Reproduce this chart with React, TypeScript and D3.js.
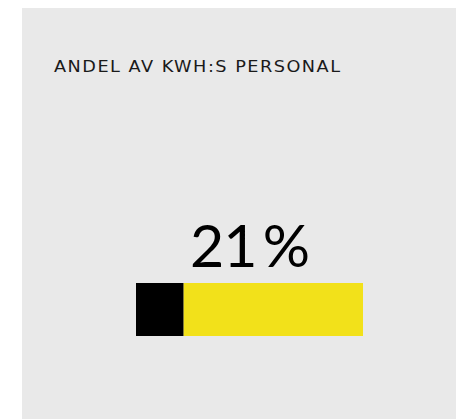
import React, { useRef, useEffect } from 'react';
import * as d3 from 'd3';

const title = 'ANDEL AV KWH:S PERSONAL';
const shareValue = [21];
const shareTotal = [100];
const segmentColors = ['#000000', '#f2e11a'];

const App: React.FC = () => {
  const svgRef = useRef<SVGSVGElement>(null);

  useEffect(() => {
    if (!svgRef.current) return;
    const width = 456;
    const height = 419;

    d3.select(svgRef.current).selectAll('*').remove();
    const svg = d3.select(svgRef.current)
      .attr('width', width)
      .attr('height', height);

    // Panel
    svg.append('rect')
      .attr('x', 22)
      .attr('y', 8)
      .attr('width', width - 22)
      .attr('height', height - 8)
      .attr('fill', '#e9e9e9');

    // Titel (bredare glyfer, som Montserrat)
    const stretch = 1.18;
    svg.append('text')
      .attr('transform', `translate(54,72) scale(${stretch},1)`)
      .attr('font-family', '"DejaVu Sans", sans-serif')
      .attr('font-size', 15)
      .attr('textLength', 286 / stretch)
      .attr('lengthAdjust', 'spacing')
      .attr('fill', '#1a1a1a')
      .text(title);

    const value = shareValue[0];
    const total = shareTotal[0];

    const x = d3.scaleLinear()
      .domain([0, total])
      .range([136, 363]);

    const barY = 283;
    const barH = 53;

    const segments = [
      { start: 0, end: value },
      { start: value, end: total },
    ];

    svg.selectAll('.seg')
      .data(segments)
      .enter()
      .append('rect')
      .attr('class', 'seg')
      .attr('x', d => x(d.start))
      .attr('y', barY)
      .attr('width', d => x(d.end) - x(d.start))
      .attr('height', barH)
      .attr('fill', (_, i) => segmentColors[i]);

    // Procenttext
    svg.append('text')
      .attr('x', (x(0) + x(total)) / 2)
      .attr('y', 267)
      .attr('text-anchor', 'middle')
      .attr('font-family', 'Lato, sans-serif')
      .attr('font-weight', 400)
      .attr('font-size', 59)
      .attr('letter-spacing', -1)
      .attr('fill', '#000')
      .text(`${value}\u2009%`);
  }, []);

  return (
    <div style={{ position: 'fixed', left: 0, top: 0 }}>
      <svg ref={svgRef} style={{ display: 'block' }} />
    </div>
  );
};

export default App;
